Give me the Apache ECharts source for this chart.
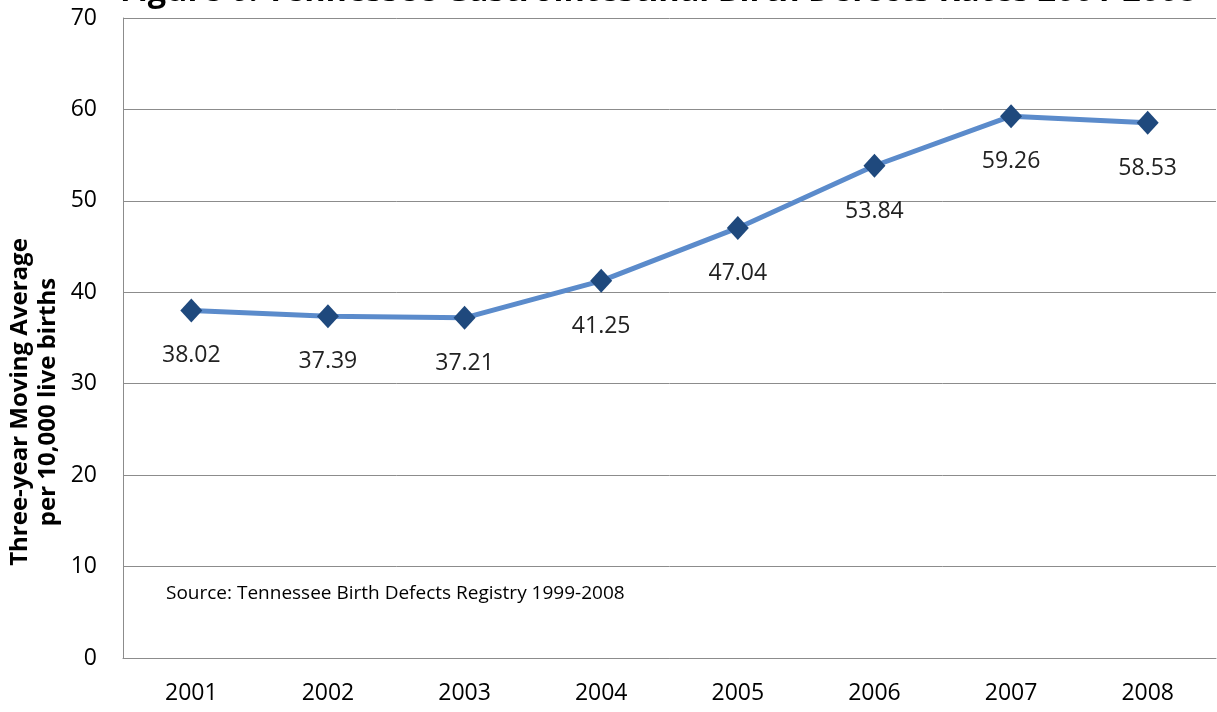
<!DOCTYPE html>
<html>
<head>
  <meta charset="utf-8">
  <style>
    html, body { margin: 0; padding: 0; width: 100%; height: 100%; overflow: hidden; background: #fff; }
  </style>
  <script src="https://cdn.jsdelivr.net/npm/echarts@6/dist/echarts.min.js"></script>
</head>
<body>
  <div id="container" style="width:1217px;height:712px;"></div>
  <script>
    var years = ['2001', '2002', '2003', '2004', '2005', '2006', '2007', '2008'];
    var rates = [38.02, 37.39, 37.21, 41.25, 47.04, 53.84, 59.26, 58.53];
    var yTicks = [0, 10, 20, 30, 40, 50, 60, 70];

    var font = '"Open Sans", "Noto Sans", sans-serif';
    var chart = echarts.init(document.getElementById('container'), null, { renderer: 'canvas' });

    var option = {
      animation: false,
      grid: { left: 123, right: 1, top: 18, bottom: 54 },
      graphic: [
        {
          type: 'text', left: 120, top: -25,
          style: { text: 'Figure 6. Tennessee Gastrointestinal Birth Defects Rates 2001-2008', fontFamily: font, fontWeight: 'bold', fontSize: 32.5, fill: '#000' }
        },
        {
          type: 'text', x: 34, y: 402, rotation: Math.PI / 2,
          style: { text: 'Three-year Moving Average\nper 10,000 live births', fontFamily: font, fontWeight: 'bold', fontSize: 24, lineHeight: 28, fill: '#000', textAlign: 'center', textVerticalAlign: 'middle' }
        },
        {
          type: 'text', x: 166, y: 594,
          style: { text: 'Source: Tennessee Birth Defects Registry 1999-2008', fontFamily: font, fontSize: 19, fill: '#000', textVerticalAlign: 'middle' }
        }
      ],
      xAxis: {
        type: 'category',
        data: years,
        boundaryGap: true,
        axisLine: { lineStyle: { color: '#8c8c8c', width: 1 } },
        axisTick: { inside: true, length: 7, alignWithLabel: true, lineStyle: { color: '#8c8c8c' } },
        axisLabel: { color: '#000', fontFamily: font, fontSize: 23, margin: 24 }
      },
      yAxis: {
        type: 'value',
        min: yTicks[0],
        max: yTicks[yTicks.length - 1],
        interval: 10,
        axisLine: { show: true, lineStyle: { color: '#8c8c8c', width: 1 } },
        axisTick: { show: false },
        axisLabel: { color: '#000', fontFamily: font, fontSize: 23, margin: 26 },
        splitLine: { lineStyle: { color: '#8c8c8c', width: 1 } }
      },
      series: [{
        type: 'line',
        data: rates,
        symbol: 'diamond',
        symbolSize: [22, 24],
        itemStyle: { color: '#1f497d' },
        lineStyle: { color: '#5b8bcb', width: 5 },
        label: {
          show: true, position: 'bottom', distance: 22,
          color: '#222', fontFamily: font, fontSize: 23,
          formatter: function (p) { return p.value.toFixed(2); }
        }
      }]
    };
    chart.setOption(option);
  </script>
</body>
</html>
